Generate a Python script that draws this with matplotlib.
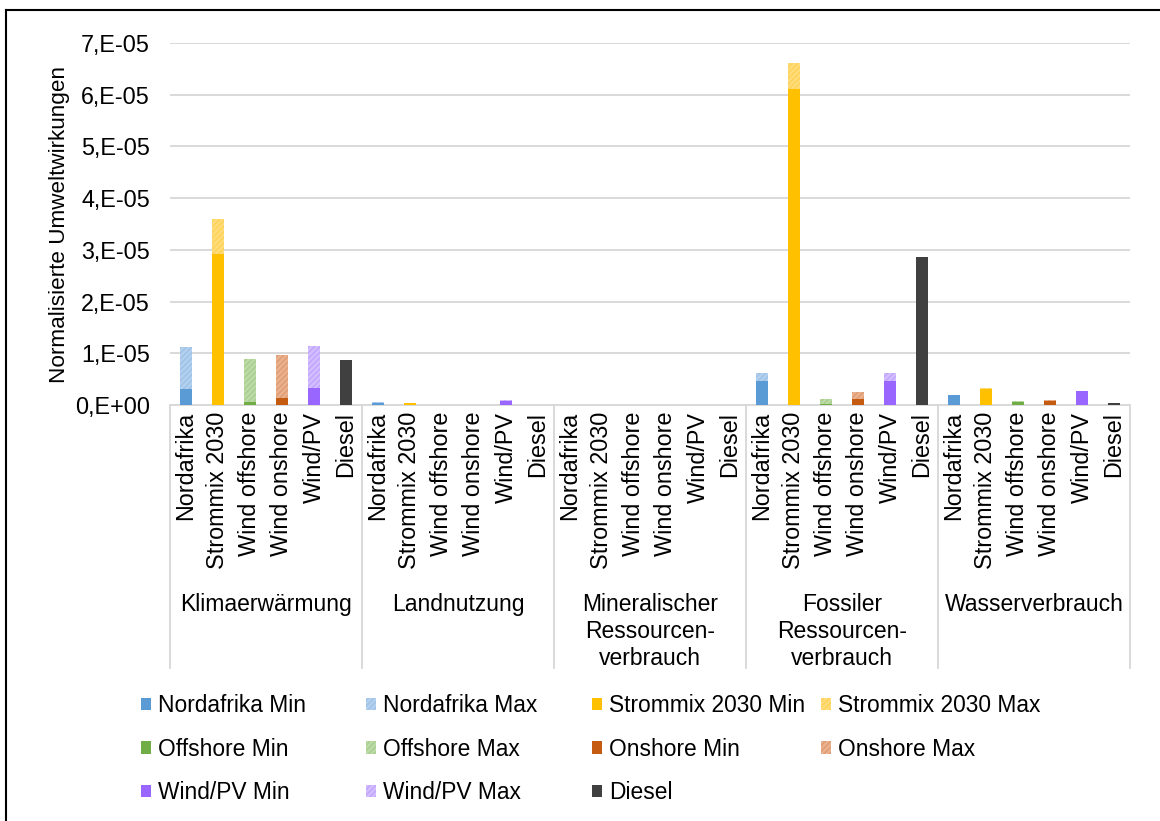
import matplotlib
matplotlib.use("Agg")
import matplotlib.pyplot as plt
import matplotlib.transforms as mtransforms
from matplotlib.ticker import FuncFormatter, MultipleLocator
from matplotlib.lines import Line2D

plt.rcParams['font.family'] = ['Liberation Sans', 'DejaVu Sans']
plt.rcParams['hatch.linewidth'] = 0.9

# ---------------- data ----------------
groups = ["Klimaerwärmung", "Landnutzung", "Mineralischer\nRessourcen-\nverbrauch",
          "Fossiler\nRessourcen-\nverbrauch", "Wasserverbrauch"]
techs = ["Nordafrika", "Strommix 2030", "Wind offshore", "Wind onshore", "Wind/PV", "Diesel"]

# values per impact category (unit: normalised, e.g. 3.0e-05)
nordafrika_min = [0.30e-5, 0.045e-5, 0.0, 0.47e-5, 0.19e-5]
nordafrika_max = [1.12e-5, 0.065e-5, 0.0, 0.61e-5, 0.20e-5]
strommix_min   = [2.92e-5, 0.030e-5, 0.0, 6.11e-5, 0.30e-5]
strommix_max   = [3.60e-5, 0.035e-5, 0.0, 6.62e-5, 0.32e-5]
offshore_min   = [0.06e-5, 0.000e-5, 0.0, 0.01e-5, 0.065e-5]
offshore_max   = [0.89e-5, 0.005e-5, 0.0, 0.11e-5, 0.070e-5]
onshore_min    = [0.14e-5, 0.000e-5, 0.0, 0.12e-5, 0.085e-5]
onshore_max    = [0.97e-5, 0.005e-5, 0.0, 0.25e-5, 0.090e-5]
windpv_min     = [0.33e-5, 0.085e-5, 0.0, 0.47e-5, 0.27e-5]
windpv_max     = [1.14e-5, 0.090e-5, 0.0, 0.62e-5, 0.28e-5]
diesel         = [0.87e-5, 0.000e-5, 0.0, 2.86e-5, 0.04e-5]

series = [
    ("Nordafrika", nordafrika_min, nordafrika_max, "#5B9BD5", "#B2CFEE", "#9CC1E7"),
    ("Strommix 2030", strommix_min, strommix_max, "#FFC000", "#FFDC7A", "#FFD052"),
    ("Offshore", offshore_min, offshore_max, "#70AD47", "#BCDAA6", "#A6CD8B"),
    ("Onshore", onshore_min, onshore_max, "#C55A11", "#E9B18E", "#DF9A6E"),
    ("Wind/PV", windpv_min, windpv_max, "#9966FF", "#D2BDFF", "#BFA2FF"),
]
diesel_color = "#404040"

# ---------------- figure ----------------
W, H = 1160, 821
fig = plt.figure(figsize=(W / 100, H / 100), dpi=100)
ax_l, ax_r, ax_t, ax_b = 170, 1130, 43, 405
ax = fig.add_axes([ax_l / W, 1 - ax_b / H, (ax_r - ax_l) / W, (ax_b - ax_t) / H])

n_t = len(techs)
bw = 0.4
handles = {}
for ti, (name, vmin, vmax, cmin, cmax, chatch) in enumerate(series):
    xs = [g * n_t + ti for g in range(len(groups))]
    diff = [mx - mn for mn, mx in zip(vmin, vmax)]
    b1 = ax.bar(xs, vmin, width=bw, color=cmin, linewidth=0, zorder=3)
    b2 = ax.bar(xs, diff, bottom=vmin, width=bw, facecolor=cmax, edgecolor=chatch,
                hatch="//////", linewidth=0, zorder=3)
    handles[name + " Min"] = b1
    handles[name + " Max"] = b2
xs = [g * n_t + 5 for g in range(len(groups))]
handles["Diesel"] = ax.bar(xs, diesel, width=bw, color=diesel_color, linewidth=0, zorder=3)

ax.set_xlim(-0.5, len(groups) * n_t - 0.5)
ax.set_ylim(0, 7e-5)
ax.yaxis.set_major_locator(MultipleLocator(1e-5))


def yfmt(v, pos):
    k = int(round(v * 1e5))
    return "0,E+00" if k == 0 else f"{k},E-05"


ax.yaxis.set_major_formatter(FuncFormatter(yfmt))
ax.grid(axis='y', color='#D9D9D9', linewidth=1.4, zorder=0)
ax.set_axisbelow(True)
for s in ['top', 'right', 'left']:
    ax.spines[s].set_visible(False)
ax.spines['bottom'].set_color('#D9D9D9')
ax.spines['bottom'].set_linewidth(1.4)
ax.tick_params(axis='y', length=0, pad=14.5, labelsize=16.8)

ax.set_xticks(range(len(groups) * n_t))
ax.set_xticklabels(techs * len(groups), rotation=90, fontsize=16.8, va='top', ha='center')
ax.tick_params(axis='x', length=0, pad=5)

ax.set_ylabel("Normalisierte Umweltwirkungen", fontsize=16.2, ha='center', va='center')
ax.yaxis.set_label_coords((60 - ax_l) / (ax_r - ax_l), 0.5)

# group separators and labels
trans = mtransforms.blended_transform_factory(ax.transData, ax.transAxes)
sep_bottom = -(668 - ax_b) / (ax_b - ax_t)
for g in range(len(groups) + 1):
    x = g * n_t - 0.5
    ax.add_line(Line2D([x, x], [0, sep_bottom], transform=trans, color='#D9D9D9',
                       linewidth=1.4, clip_on=False))
label_top = -(593 - ax_b) / (ax_b - ax_t)
for g, name in enumerate(groups):
    ax.text(g * n_t + 2.5, label_top, name, transform=trans, ha='center', va='top',
            fontsize=16.5, linespacing=1.23, multialignment='center')

# legend (4 columns)
legend_order = [
    ["Nordafrika Min", "Offshore Min", "Wind/PV Min"],
    ["Nordafrika Max", "Offshore Max", "Wind/PV Max"],
    ["Strommix 2030 Min", "Onshore Min", "Diesel"],
    ["Strommix 2030 Max", "Onshore Max"],
]
col_x = [141, 366, 592, 821]
for cx, names in zip(col_x, legend_order):
    leg = fig.legend([handles[n] for n in names], names, loc='upper left',
                     bbox_to_anchor=(cx / W, 1 - 694 / H), frameon=False,
                     fontsize=16.4, handlelength=0.45, handleheight=0.45,
                     handletextpad=0.28, labelspacing=0.90, borderpad=0,
                     borderaxespad=0)

# outer border (top and left visible)
fig.add_artist(Line2D([6 / W, 1.0], [1 - 10 / H, 1 - 10 / H], transform=fig.transFigure,
                      color='black', linewidth=1.5))
fig.add_artist(Line2D([6 / W, 6 / W], [0, 1 - 10 / H], transform=fig.transFigure,
                      color='black', linewidth=1.5))

fig.savefig("out.png", dpi=100, facecolor='white')
